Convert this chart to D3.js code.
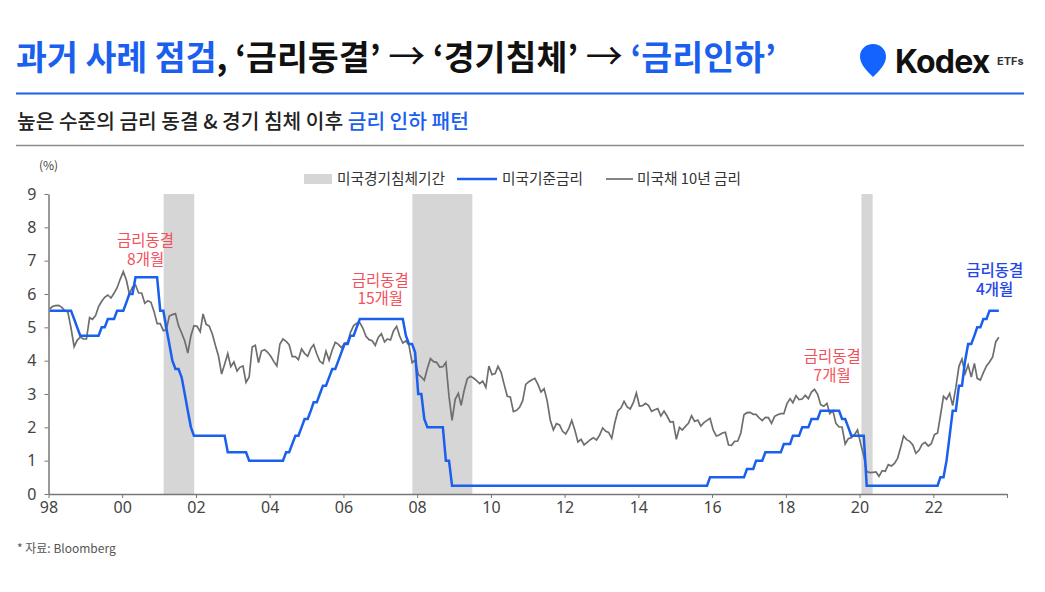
<!DOCTYPE html>
<html>
<head>
<meta charset="utf-8">
<script src="https://cdn.jsdelivr.net/npm/d3@7"></script>
<style>
  html, body { margin: 0; padding: 0; background: #fff; }
  svg { display: block; font-family: "Noto Sans CJK KR", "Noto Sans", sans-serif; }
  .axis text { font-family: "Noto Sans", sans-serif; font-size: 16px; fill: #444; }
  .axis path, .axis line { stroke: #777; }
  .axis path { stroke-width: 1.5; }
  .legend text { font-size: 14.7px; fill: #333; }
  .note { font-size: 15.5px; text-anchor: middle; }
</style>
</head>
<body>
<svg id="chart" width="1045" height="592"></svg>
<script>
// monthly, Jan 98 ... Oct 23
const policyRate = [
  5.5,5.5,5.5,5.5,5.5,5.5,5.5,5.5,5.25,5,4.75,4.75,
  4.75,4.75,4.75,4.75,4.75,5,5,5.25,5.25,5.25,5.5,5.5,
  5.5,5.75,6,6,6.5,6.5,6.5,6.5,6.5,6.5,6.5,6.5,
  5.5,5.5,5,4.5,4,3.75,3.75,3.5,3,2.5,2,1.75,
  1.75,1.75,1.75,1.75,1.75,1.75,1.75,1.75,1.75,1.75,1.25,1.25,
  1.25,1.25,1.25,1.25,1.25,1,1,1,1,1,1,1,
  1,1,1,1,1,1.25,1.25,1.5,1.75,1.75,2,2.25,
  2.25,2.5,2.75,2.75,3,3.25,3.25,3.5,3.75,3.75,4,4.25,
  4.5,4.5,4.75,4.75,5,5.25,5.25,5.25,5.25,5.25,5.25,5.25,
  5.25,5.25,5.25,5.25,5.25,5.25,5.25,5.25,4.75,4.5,4.5,4.25,
  3,3,2.25,2,2,2,2,2,2,1,1,0.25,
  0.25,0.25,0.25,0.25,0.25,0.25,0.25,0.25,0.25,0.25,0.25,0.25,
  0.25,0.25,0.25,0.25,0.25,0.25,0.25,0.25,0.25,0.25,0.25,0.25,
  0.25,0.25,0.25,0.25,0.25,0.25,0.25,0.25,0.25,0.25,0.25,0.25,
  0.25,0.25,0.25,0.25,0.25,0.25,0.25,0.25,0.25,0.25,0.25,0.25,
  0.25,0.25,0.25,0.25,0.25,0.25,0.25,0.25,0.25,0.25,0.25,0.25,
  0.25,0.25,0.25,0.25,0.25,0.25,0.25,0.25,0.25,0.25,0.25,0.25,
  0.25,0.25,0.25,0.25,0.25,0.25,0.25,0.25,0.25,0.25,0.25,0.5,
  0.5,0.5,0.5,0.5,0.5,0.5,0.5,0.5,0.5,0.5,0.5,0.75,
  0.75,0.75,1,1,1,1.25,1.25,1.25,1.25,1.25,1.25,1.5,
  1.5,1.5,1.75,1.75,1.75,2,2,2,2.25,2.25,2.25,2.5,
  2.5,2.5,2.5,2.5,2.5,2.5,2.25,2.25,2,1.75,1.75,1.75,
  1.75,1.75,0.25,0.25,0.25,0.25,0.25,0.25,0.25,0.25,0.25,0.25,
  0.25,0.25,0.25,0.25,0.25,0.25,0.25,0.25,0.25,0.25,0.25,0.25,
  0.25,0.25,0.5,0.5,1,1.75,2.5,2.5,3.25,3.25,4,4.5,
  4.5,4.75,5,5,5.25,5.25,5.5,5.5,5.5,5.5
];

const treasury10y = [
  5.55,5.63,5.65,5.66,5.6,5.5,5.46,4.98,4.42,4.61,4.71,4.65,
  4.65,5.29,5.24,5.35,5.62,5.78,5.9,5.97,5.88,6.02,6.19,6.44,
  6.67,6.41,6.0,6.21,6.27,6.03,6.03,5.72,5.8,5.75,5.47,5.11,
  5.11,4.9,4.92,5.34,5.38,5.41,5.05,4.83,4.59,4.23,4.75,5.05,
  5.03,4.87,5.4,5.09,5.04,4.8,4.46,4.14,3.6,3.89,4.21,3.82,
  3.96,3.69,3.8,3.84,3.35,3.51,4.41,4.46,3.94,4.29,4.33,4.25,
  4.13,3.97,3.84,4.5,4.65,4.58,4.48,4.12,4.12,4.03,4.35,4.22,
  4.13,4.37,4.48,4.2,3.98,3.91,4.28,4.01,4.32,4.55,4.49,4.39,
  4.52,4.55,4.85,5.05,5.12,5.14,4.98,4.73,4.63,4.6,4.46,4.7,
  4.81,4.56,4.65,4.62,4.89,5.03,4.74,4.53,4.59,4.47,3.94,4.02,
  3.59,3.51,3.41,3.77,4.06,3.97,3.95,3.81,3.82,3.95,2.92,2.21,
  2.84,3.02,2.66,3.12,3.46,3.53,3.48,3.4,3.31,3.39,3.2,3.84,
  3.58,3.61,3.83,3.65,3.29,2.93,2.91,2.47,2.51,2.6,2.8,3.29,
  3.37,3.43,3.47,3.29,3.06,3.16,2.8,2.22,1.92,2.11,2.07,1.88,
  1.8,1.97,2.21,1.91,1.56,1.64,1.47,1.55,1.63,1.69,1.62,1.76,
  1.98,1.88,1.85,1.67,2.13,2.49,2.58,2.78,2.61,2.55,2.74,3.03,
  2.64,2.65,2.72,2.65,2.48,2.53,2.56,2.34,2.49,2.34,2.16,2.17,
  1.64,2.0,1.92,2.03,2.12,2.35,2.18,2.22,2.04,2.14,2.21,2.27,
  1.92,1.74,1.77,1.83,1.85,1.47,1.46,1.58,1.59,1.83,2.38,2.44,
  2.45,2.39,2.39,2.28,2.2,2.3,2.29,2.12,2.33,2.38,2.41,2.41,
  2.71,2.86,2.74,2.95,2.83,2.85,2.96,2.86,3.06,3.14,2.99,2.68,
  2.63,2.72,2.41,2.5,2.12,2.01,2.01,1.5,1.66,1.69,1.78,1.92,
  1.51,1.15,0.67,0.64,0.65,0.66,0.53,0.7,0.68,0.88,0.84,0.92,
  1.07,1.4,1.74,1.63,1.58,1.47,1.22,1.31,1.49,1.55,1.44,1.51,
  1.78,1.83,2.34,2.93,2.84,3.02,2.65,3.19,3.83,4.05,3.61,3.87,
  3.51,3.92,3.47,3.42,3.64,3.84,3.96,4.11,4.57,4.7
];

const monthDates = policyRate.map((d, i) => new Date(1998, i, 12));

const recessionStart = [new Date(2001, 1, 15), new Date(2007, 10, 15), new Date(2020, 0, 20)];
const recessionEnd = [new Date(2001, 11, 15), new Date(2009, 6, 1), new Date(2020, 4, 10)];

const yearTicks = [1998, 2000, 2002, 2004, 2006, 2008, 2010, 2012, 2014, 2016, 2018, 2020, 2022, 2024];
const yearLabels = ['98', '00', '02', '04', '06', '08', '10', '12', '14', '16', '18', '20', '22', ''];
const yTicks = [0, 1, 2, 3, 4, 5, 6, 7, 8, 9];

const legendLabels = ['미국경기침체기간', '미국기준금리', '미국채 10년 금리'];

const noteLines = [['금리동결', '8개월'], ['금리동결', '15개월'], ['금리동결', '7개월'], ['금리동결', '4개월']];
const noteDates = [new Date(2000, 7, 20), new Date(2007, 0, 1), new Date(2019, 3, 5), new Date(2023, 8, 1)];
const noteRates = [7.44, 6.25, 3.95, 6.53];
const noteColors = ['#f4505c', '#f4505c', '#f4505c', '#2346e6'];

const BLUE = '#1a5fee';

const svg = d3.select('#chart');

const x = d3.scaleTime().domain([new Date(1998, 0, 1), new Date(2024, 0, 1)]).range([48.5, 1007]);
const y = d3.scaleLinear().domain([0, 9]).range([494, 194]);

// header
const title = svg.append('text').attr('x', 16).attr('y', 70)
  .style('font-size', '33.6px').style('font-weight', 700).attr('fill', '#111');
title.append('tspan').attr('fill', BLUE).text('과거 사례 점검');
title.append('tspan').text(', ‘금리동결’ ');
title.append('tspan').style('font-weight', 400).style('font-size', '37px').text('→');
title.append('tspan').text(' ‘경기침체’ ');
title.append('tspan').style('font-weight', 400).style('font-size', '37px').text('→');
title.append('tspan').text(' ');
title.append('tspan').attr('fill', BLUE).text('‘금리인하’');

svg.append('line').attr('x1', 16).attr('x2', 1024).attr('y1', 93.5).attr('y2', 93.5)
  .attr('stroke', BLUE).attr('stroke-width', 2);

const sub = svg.append('text').attr('x', 17).attr('y', 129)
  .style('font-size', '20.3px').style('font-weight', 500).attr('fill', '#222');
sub.append('tspan').text('높은 수준의 금리 동결 & 경기 침체 이후 ');
sub.append('tspan').attr('fill', BLUE).text('금리 인하 패턴');

svg.append('line').attr('x1', 16).attr('x2', 1024).attr('y1', 145.5).attr('y2', 145.5)
  .attr('stroke', '#8a8a8a').attr('stroke-width', 1.5);

// logo
svg.append('path')
  .attr('d', 'M873 44c-7.5 0-13 5.500-13 12.500 0 8 7 14.500 13 20.500 6-6 13-12.500 13-20.500 0-7-5.500-12.500-13-12.500z')
  .attr('fill', '#1463ff');
svg.append('text').attr('x', 895).attr('y', 73)
  .style('font-family', 'Inter, sans-serif').style('font-size', '32px').style('font-weight', 700)
  .style('letter-spacing', '-0.8px').attr('fill', '#111').text('Kodex');
svg.append('text').attr('x', 997).attr('y', 65)
  .style('font-family', 'Inter, sans-serif').style('font-size', '11px').style('font-weight', 700)
  .attr('fill', '#333').text('ETFs');

// recession bands
svg.append('g').selectAll('rect')
  .data(recessionStart)
  .enter()
  .append('rect')
  .attr('x', d => x(d))
  .attr('width', (d, i) => x(recessionEnd[i]) - x(d))
  .attr('y', y(9))
  .attr('height', y(0) - y(9))
  .attr('fill', '#d6d6d6');

// axes
svg.append('g').attr('class', 'axis')
  .attr('transform', `translate(0,${y(0)})`)
  .call(d3.axisBottom(x)
    .tickValues(yearTicks.map(d => new Date(d, 0, 1)))
    .tickFormat((d, i) => yearLabels[i])
    .tickSize(4).tickSizeOuter(0).tickPadding(4));

svg.append('g').attr('class', 'axis')
  .attr('transform', `translate(${x.range()[0]},0)`)
  .call(d3.axisLeft(y).tickValues(yTicks).tickFormat(d3.format('d'))
    .tickSize(4).tickSizeOuter(0).tickPadding(8));

svg.append('text').attr('x', 39).attr('y', 170)
  .style('font-size', '12px').attr('fill', '#444').text('(%)');

// lines
const line = d3.line().x((d, i) => x(monthDates[i])).y(d => y(d));

svg.append('path').datum(treasury10y).attr('d', line)
  .attr('fill', 'none').attr('stroke', '#6e6e6e').attr('stroke-width', 1.7);
svg.append('path').datum(policyRate).attr('d', line)
  .attr('fill', 'none').attr('stroke', BLUE).attr('stroke-width', 2.5);

// legend
const legend = svg.append('g').attr('class', 'legend');
legend.append('rect').attr('x', 304).attr('y', 174).attr('width', 28).attr('height', 10).attr('fill', '#d6d6d6');
legend.append('text').attr('x', 337).attr('y', 184).text(legendLabels[0]);
legend.append('line').attr('x1', 457).attr('x2', 497).attr('y1', 179).attr('y2', 179)
  .attr('stroke', BLUE).attr('stroke-width', 2.5);
legend.append('text').attr('x', 502).attr('y', 184).text(legendLabels[1]);
legend.append('line').attr('x1', 606).attr('x2', 633).attr('y1', 179).attr('y2', 179)
  .attr('stroke', '#6e6e6e').attr('stroke-width', 1.7);
legend.append('text').attr('x', 637).attr('y', 184).text(legendLabels[2]);

// hold annotations
noteLines.forEach((lines, i) => {
  const t = svg.append('text').attr('class', 'note')
    .attr('fill', noteColors[i])
    .style('font-weight', i === 3 ? 500 : 400);
  lines.forEach((s, j) => {
    t.append('tspan')
      .attr('x', x(noteDates[i]))
      .attr('y', y(noteRates[i]) + j * 18.5)
      .text(s);
  });
});

svg.append('text').attr('x', 17).attr('y', 553)
  .style('font-size', '12px').attr('fill', '#555').text('* 자료: Bloomberg');
</script>
</body>
</html>
